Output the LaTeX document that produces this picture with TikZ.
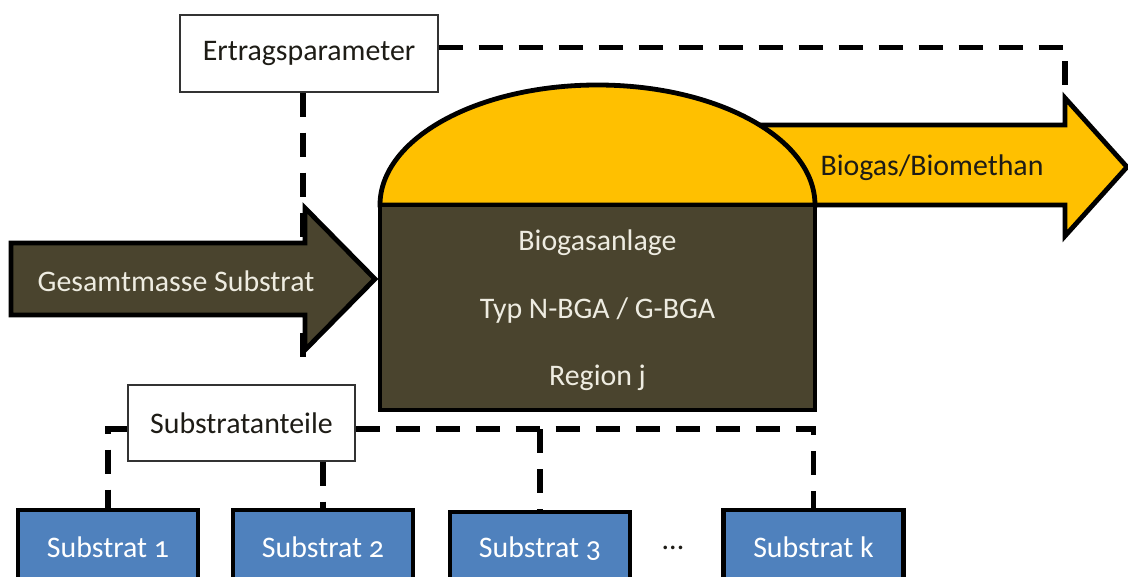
\documentclass[tikz,border=0pt]{standalone}
\usepackage{fontspec}
\setmainfont{Carlito}[Numbers=OldStyle]
\definecolor{gasyellow}{RGB}{255,192,0}
\definecolor{plantbrown}{RGB}{74,68,46}
\definecolor{creamtext}{RGB}{238,236,225}
\definecolor{subblue}{RGB}{79,129,189}
\definecolor{darktext}{RGB}{30,28,22}
\pgfdeclarelayer{background}
\pgfsetlayers{background,main}
\tikzset{
  lbl/.style={font=\fontsize{22.4}{26}\selectfont, inner sep=0pt},
  parambox/.style={draw=black!80, line width=1pt, fill=white, lbl, text=darktext},
  substratbox/.style={draw=black, line width=3.6pt, fill=subblue, lbl, text=white,
    minimum width=135pt, minimum height=55.5pt},
  link/.style={line width=3.8pt, dash pattern=on 18pt off 12pt},
  thick outline/.style={draw=black, line width=3.6pt, line join=miter}
}
\begin{document}
\begin{tikzpicture}[x=0.75pt,y=-0.75pt]
\useasboundingbox (0,0) rectangle (1128,577);
\clip (0,0) rectangle (1128,577);

% parameter boxes
\node[parambox, minimum width=193.5pt, minimum height=57.75pt] (ertrag) at (309,53.5) {Ertragsparameter};
\node[parambox, minimum width=170.25pt, minimum height=57pt] (anteil) at (241.5,423) {Substratanteile};

% substrate boxes
\node[substratbox] (sub1) at (108,547) {Substrat 1};
\node[substratbox] (sub2) at (323,547) {Substrat 2};
\node[substratbox] (sub3) at (540,549) {Substrat 3};
\node[substratbox] (subk) at (813.5,547) {Substrat k};
\node[lbl, text=darktext] (dots) at (673,548) {...};

% points where the dashed links run under the arrows
\coordinate (gasjoin) at (1065,100);
\coordinate (massjoin) at (303,372);

% dashed links, kept behind boxes and arrows
\begin{pgfonlayer}{background}
\draw[link] ([yshift=4.5pt]ertrag.east) -| (gasjoin);
\draw[link] ([xshift=-4.5pt]ertrag.south) -- (massjoin);
\draw[link] ([yshift=-4.5pt]anteil.west) -| (sub1.north);
\draw[link] (sub2.north |- anteil.south) -- (sub2.north);
\draw[link] ([yshift=-4.5pt]anteil.east) -| (subk.north);
\draw[link] (sub3.north |- 0,429) -- (sub3.north);
\end{pgfonlayer}

% gas output arrow
\draw[thick outline, fill=gasyellow]
  (700,125) -- (1065,125) -- (1065,98) -- (1127,167) -- (1065,236) -- (1065,205) -- (700,205) -- cycle;
\node[lbl, text=darktext] (gaslabel) at (932,168) {Biogas/Biomethan};

% substrate input arrow
\draw[thick outline, fill=plantbrown]
  (11,243) -- (305,243) -- (305,208) -- (375,279) -- (305,350) -- (305,315) -- (11,315) -- cycle;
\node[lbl, text=creamtext] (masslabel) at (176,281) {Gesamtmasse Substrat};

% biogas plant: gas dome and digester
\draw[thick outline, fill=gasyellow]
  (380,205) arc[start angle=180, end angle=0, x radius=163.125pt, y radius=90pt] -- cycle;
\node[thick outline, fill=plantbrown, minimum width=326.25pt, minimum height=153.75pt] (plant) at (597.5,307.5) {};
\node[lbl, text=creamtext] (plantname) at (597.5,243) {Biogasanlage};
\node[lbl, text=creamtext] (planttype) at (597.5,311) {Typ N-BGA / G-BGA};
\node[lbl, text=creamtext] (plantregion) at (597.5,378) {Region j};
\end{tikzpicture}
\end{document}
